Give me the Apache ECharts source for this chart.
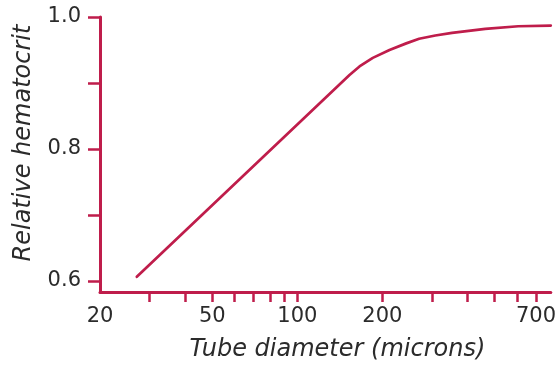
<!DOCTYPE html>
<html><head><meta charset="utf-8">
<script src="https://cdn.jsdelivr.net/npm/echarts@6/dist/echarts.min.js"></script>
<style>html,body{margin:0;padding:0;background:#fff}#c{width:559px;height:367px}</style>
</head><body><div id="c"></div>
<script>
// Data (tube diameter in microns, relative hematocrit)
const diameters = [27, 153, 166, 185, 212, 243, 270, 308, 353, 463, 606, 790];
const hematocrit = [0.606, 0.912, 0.925, 0.938, 0.950, 0.960, 0.967, 0.972, 0.976, 0.982, 0.986, 0.987];
const xTicks = [30, 40, 50, 60, 70, 80, 90, 100, 200, 300, 400, 500, 600, 700];
const xLabels = [20, 50, 100, 200, 700];
const yTicks = [0.6, 0.7, 0.8, 0.9, 1.0];
const yLabels = [0.6, 0.8, 1.0];
const xMin = 20, xMax = 790, yMin = 0.583, yMax = 1.0;

const col = '#BF1D4B';
const txt = '#2b2b2b';
const lg = v => Math.log10(v);

const chart = echarts.init(document.getElementById('c'), null, {renderer: 'canvas'});
chart.setOption({
  animation: false,
  grid: {left: 100, right: 6, top: 17, bottom: 74, containLabel: false},
  xAxis: {
    type: 'value',
    min: lg(xMin), max: lg(xMax),
    name: 'Tube diameter (microns)',
    nameLocation: 'middle',
    nameGap: 46,
    nameTextStyle: {fontFamily: 'DejaVu Sans', fontStyle: 'italic', fontSize: 24, color: txt, padding: [0, 0, 0, 24]},
    axisLine: {show: true, lineStyle: {color: col, width: 3}},
    axisTick: {show: true, length: 10, lineStyle: {color: col, width: 2.5}, customValues: xTicks.map(lg)},
    axisLabel: {
      customValues: xLabels.map(lg),
      margin: 14,
      fontFamily: 'DejaVu Sans', fontSize: 21, color: txt,
      formatter: v => String(Math.round(Math.pow(10, v)))
    },
    splitLine: {show: false}
  },
  yAxis: {
    type: 'value',
    min: yMin, max: yMax,
    name: 'Relative hematocrit',
    nameLocation: 'middle',
    nameGap: 64,
    nameTextStyle: {fontFamily: 'DejaVu Sans', fontStyle: 'italic', fontSize: 24, color: txt, padding: [0, 0, 0, 23]},
    axisLine: {show: true, lineStyle: {color: col, width: 3}},
    axisTick: {show: true, length: 12, lineStyle: {color: col, width: 2.5}, customValues: yTicks},
    axisLabel: {
      customValues: yLabels,
      margin: 19,
      fontFamily: 'DejaVu Sans', fontSize: 21, color: txt,
      formatter: v => v.toFixed(1)
    },
    splitLine: {show: false}
  },
  series: [{
    type: 'line',
    data: diameters.map((d, i) => [lg(d), hematocrit[i]]),
    showSymbol: false,
    smooth: false,
    lineStyle: {color: col, width: 2.7, join: 'round', cap: 'round'},
    itemStyle: {color: col}
  }]
});
</script>
</body></html>
